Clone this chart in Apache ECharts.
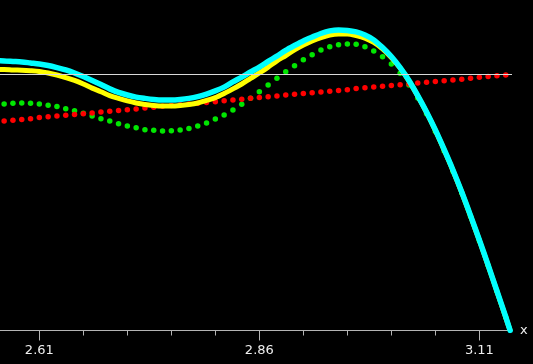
<!DOCTYPE html>
<html>
<head>
<meta charset="utf-8">
<script src="https://cdn.jsdelivr.net/npm/echarts@6/dist/echarts.min.js"></script>
<style>
  html, body { margin: 0; padding: 0; background: #000; }
  #container { width: 533px; height: 364px; }
</style>
</head>
<body>
<div id="container"></div>
<script>
// sample positions of the dotted series
var dotX = [2.57, 2.58, 2.59, 2.60, 2.61, 2.62, 2.63, 2.64, 2.65, 2.66, 2.67, 2.68, 2.69, 2.70, 2.71,
  2.72, 2.73, 2.74, 2.75, 2.76, 2.77, 2.78, 2.79, 2.80, 2.81, 2.82, 2.83, 2.84, 2.85, 2.86, 2.87,
  2.88, 2.89, 2.90, 2.91, 2.92, 2.93, 2.94, 2.95, 2.96, 2.97, 2.98, 2.99, 3.00, 3.01, 3.02, 3.03,
  3.04, 3.05, 3.06, 3.07, 3.08, 3.09, 3.10, 3.11, 3.12, 3.13, 3.14];
// the two solid curves also run to the left edge and down to the axis
var curveX = [2.56].concat(dotX, [3.145]);

var cyanY = [1.052, 1.051, 1.049, 1.047, 1.043, 1.039, 1.033, 1.025, 1.016, 1.004, 0.990, 0.975,
  0.959, 0.942, 0.928, 0.918, 0.910, 0.905, 0.901, 0.899, 0.899, 0.901, 0.905, 0.912, 0.922, 0.934,
  0.949, 0.969, 0.988, 1.008, 1.027, 1.049, 1.070, 1.092, 1.111, 1.129, 1.144, 1.158, 1.168, 1.172,
  1.170, 1.164, 1.152, 1.133, 1.103, 1.068, 1.025, 0.975, 0.916, 0.852, 0.782, 0.706, 0.626, 0.540,
  0.448, 0.353, 0.255, 0.154, 0.053, 0.000];

var yellowY = [1.018, 1.018, 1.016, 1.015, 1.013, 1.010, 1.004, 0.996, 0.986, 0.975, 0.961, 0.945,
  0.931, 0.916, 0.905, 0.895, 0.887, 0.881, 0.877, 0.875, 0.875, 0.877, 0.881, 0.887, 0.897, 0.908,
  0.924, 0.942, 0.961, 0.983, 1.004, 1.027, 1.051, 1.072, 1.094, 1.113, 1.129, 1.142, 1.152, 1.156,
  1.156, 1.150, 1.140, 1.123, 1.098, 1.064, 1.023, 0.973, 0.914, 0.850, 0.780, 0.704, 0.624, 0.538,
  0.446, 0.351, 0.253, 0.152, 0.051, 0.000];

var greenY = [0.883, 0.886, 0.887, 0.886, 0.883, 0.878, 0.873, 0.865, 0.857, 0.847, 0.836, 0.826,
  0.817, 0.806, 0.797, 0.790, 0.783, 0.781, 0.778, 0.779, 0.782, 0.788, 0.797, 0.809, 0.825, 0.840,
  0.860, 0.882, 0.905, 0.931, 0.957, 0.983, 1.009, 1.032, 1.056, 1.075, 1.094, 1.106, 1.114, 1.117,
  1.116, 1.106, 1.090, 1.067, 1.039, 1.003, 0.957, 0.906, 0.845, 0.776, 0.700, 0.621, 0.536, 0.445,
  0.350, 0.253, 0.153, 0.052];

var redY = [0.817, 0.820, 0.823, 0.826, 0.830, 0.833, 0.836, 0.839, 0.842, 0.845, 0.848, 0.852,
  0.855, 0.858, 0.861, 0.864, 0.867, 0.870, 0.874, 0.877, 0.880, 0.883, 0.886, 0.889, 0.892, 0.896,
  0.899, 0.902, 0.905, 0.908, 0.911, 0.914, 0.918, 0.921, 0.924, 0.927, 0.930, 0.933, 0.936, 0.939,
  0.943, 0.946, 0.949, 0.952, 0.955, 0.958, 0.961, 0.965, 0.968, 0.971, 0.974, 0.977, 0.980, 0.983,
  0.987, 0.990, 0.993, 0.996];

var levelY = 1;
var majorTicks = [2.61, 2.86, 3.11];
var minorTicks = [2.66, 2.71, 2.76, 2.81, 2.91, 2.96, 3.01, 3.06];

function pairs(xs, ys) {
  return xs.map(function (x, i) { return [x, ys[i]]; });
}

var FONT = 'DejaVu Sans';
var xMin = 2.5653, xMax = 3.1471;

var chart = echarts.init(document.getElementById('container'));

var option = {
  backgroundColor: '#000000',
  animation: false,
  grid: { left: 0, right: 21, top: 0, bottom: 33.5, outerBoundsMode: 'none' },
  xAxis: [{
    type: 'value', position: 'bottom', min: xMin, max: xMax,
    name: 'x', nameLocation: 'end', nameGap: 8,
    nameTextStyle: { color: '#eeeeee', fontSize: 13, fontFamily: FONT, padding: [4, 0, 0, 0] },
    axisLine: { show: true, onZero: false, lineStyle: { color: '#b4b4b4', width: 1 } },
    axisTick: { show: true, customValues: majorTicks, length: 10, lineStyle: { color: '#b4b4b4' } },
    axisLabel: { show: true, customValues: majorTicks, margin: 14, color: '#eeeeee', fontSize: 13, fontFamily: FONT },
    splitLine: { show: false }
  }, {
    // short ticks every 0.05
    type: 'value', position: 'bottom', min: xMin, max: xMax,
    axisLine: { show: false, onZero: false },
    axisTick: { show: true, customValues: minorTicks, length: 5, lineStyle: { color: '#b4b4b4' } },
    axisLabel: { show: false },
    splitLine: { show: false }
  }],
  yAxis: { type: 'value', min: 0, max: 1.2885, show: false, splitLine: { show: false } },
  series: [{
    type: 'scatter', name: 'green', data: pairs(dotX, greenY),
    symbolSize: 5.5, itemStyle: { color: '#00e600', opacity: 1 },
    markLine: {
      silent: true, symbol: 'none', label: { show: false },
      lineStyle: { color: '#d8d8d8', width: 1, type: 'solid', opacity: 1 },
      data: [{ yAxis: levelY }]
    }
  }, {
    type: 'line', name: 'yellow', data: pairs(curveX, yellowY),
    showSymbol: false, smooth: 0.3, lineStyle: { color: '#ffff00', width: 5 }
  }, {
    type: 'line', name: 'cyan', data: pairs(curveX, cyanY),
    showSymbol: false, smooth: 0.3, lineStyle: { color: '#00ffff', width: 5.5, cap: 'round' }
  }, {
    type: 'scatter', name: 'red', data: pairs(dotX, redY),
    symbolSize: 5.5, itemStyle: { color: '#ff0000', opacity: 1 }
  }]
};

chart.setOption(option);
</script>
</body>
</html>
